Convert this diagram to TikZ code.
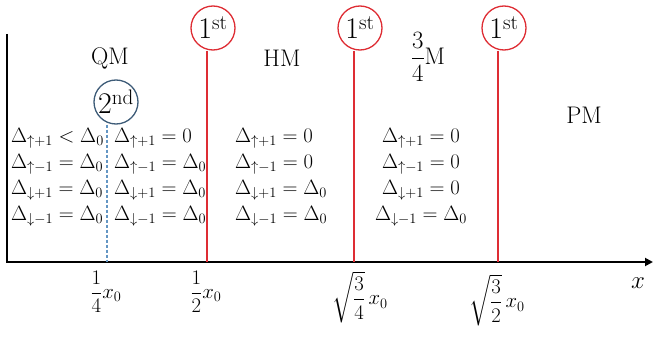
\documentclass[tikz,border=0pt]{standalone}
\usepackage{amsmath,amssymb}
\usetikzlibrary{arrows.meta}
\definecolor{transred}{RGB}{222,45,52}
\definecolor{ringblue}{RGB}{62,92,120}
\definecolor{dashblue}{RGB}{100,150,195}

\begin{document}
\begin{tikzpicture}[x=1pt,y=-1pt]
  \tikzset{axisline/.style={draw=black,line width=1.8pt}}
  \tikzset{firstline/.style={draw=transred,line width=1.4pt}}
  \tikzset{secondline/.style={draw=dashblue,line width=1.1pt,dash pattern=on 3pt off 2pt}}
  \tikzset{firstring/.style={circle,draw=transred,line width=1.3pt,inner sep=0pt,minimum size=44pt,font=\fontsize{30}{32}\selectfont}}
  \tikzset{secondring/.style={firstring,draw=ringblue}}
  \tikzset{phaselabel/.style={font=\fontsize{24}{28}\selectfont,inner sep=0pt}}
  \tikzset{gapblock/.style={font=\fontsize{20}{26}\selectfont,inner sep=0pt}}
  \tikzset{ticklabel/.style={font=\fontsize{21}{24}\selectfont,inner sep=0pt}}
  \useasboundingbox (0,0) rectangle (654,337);
  % axes and transition points
  \coordinate (ytop) at (7,34);
  \coordinate (o) at (7,262);
  \coordinate (xend) at (653,262);
  \coordinate (xq) at (107,262);
  \coordinate (xh) at (207,262);
  \coordinate (xtq) at (354,262);
  \coordinate (xth) at (498,262);
  \draw[axisline,-{Triangle[length=8pt,width=8pt]}] (ytop) -- (o) -- (xend);
  \node[font=\fontsize{30}{34}\selectfont,inner sep=0pt] (xlabel) at (638,283) {$x$};
  % order of the transitions
  \node[secondring] (c0) at (116,102) {2\textsuperscript{nd}};
  \node[firstring] (c1) at (213,28) {1\textsuperscript{st}};
  \node[firstring] (c2) at (360,28) {1\textsuperscript{st}};
  \node[firstring] (c3) at (504,28) {1\textsuperscript{st}};
  \draw[secondline] (c0.south -| xq) -- (xq);
  \draw[firstline] (c1.south -| xh) -- (xh);
  \draw[firstline] (c2.south -| xtq) -- (xtq);
  \draw[firstline] (c3.south -| xth) -- (xth);
  % phases
  \node[phaselabel] (qm) at (110,58) {QM};
  \node[phaselabel] (hm) at (282,58) {HM};
  \node[phaselabel] (tqm) at (428,57) {{\fontsize{26}{30}\selectfont$\dfrac{3}{4}$}M};
  \node[phaselabel] (pm) at (584,115) {PM};
  % gaps in each region
  \node[gapblock,anchor=west,align=left] (g1) at (11,177) {$\Delta_{\uparrow+1}<\Delta_0$\\$\Delta_{\uparrow-1}=\Delta_0$\\$\Delta_{\downarrow+1}=\Delta_0$\\$\Delta_{\downarrow-1}=\Delta_0$};
  \node[gapblock,anchor=west,align=left] (g2) at (114,177) {$\Delta_{\uparrow+1}=0$\\$\Delta_{\uparrow-1}=\Delta_0$\\$\Delta_{\downarrow+1}=\Delta_0$\\$\Delta_{\downarrow-1}=\Delta_0$};
  \node[gapblock,anchor=west,align=left] (g3) at (235,177) {$\Delta_{\uparrow+1}=0$\\$\Delta_{\uparrow-1}=0$\\$\Delta_{\downarrow+1}=\Delta_0$\\$\Delta_{\downarrow-1}=\Delta_0$};
  \node[gapblock,align=center] (g4) at (421,177) {$\Delta_{\uparrow+1}=0$\\$\Delta_{\uparrow-1}=0$\\$\Delta_{\downarrow+1}=0$\\$\Delta_{\downarrow-1}=\Delta_0$};
  % tick labels
  \node[ticklabel] (lq) at (106,292) {$\dfrac{1}{4}x_0$};
  \node[ticklabel] (lh) at (206,292) {$\dfrac{1}{2}x_0$};
  \node[ticklabel] (ltq) at (360,297) {$\sqrt{\dfrac{3}{4}}\,x_0$};
  \node[ticklabel] (lth) at (497,300) {$\sqrt{\dfrac{3}{2}}\,x_0$};
\end{tikzpicture}
\end{document}
